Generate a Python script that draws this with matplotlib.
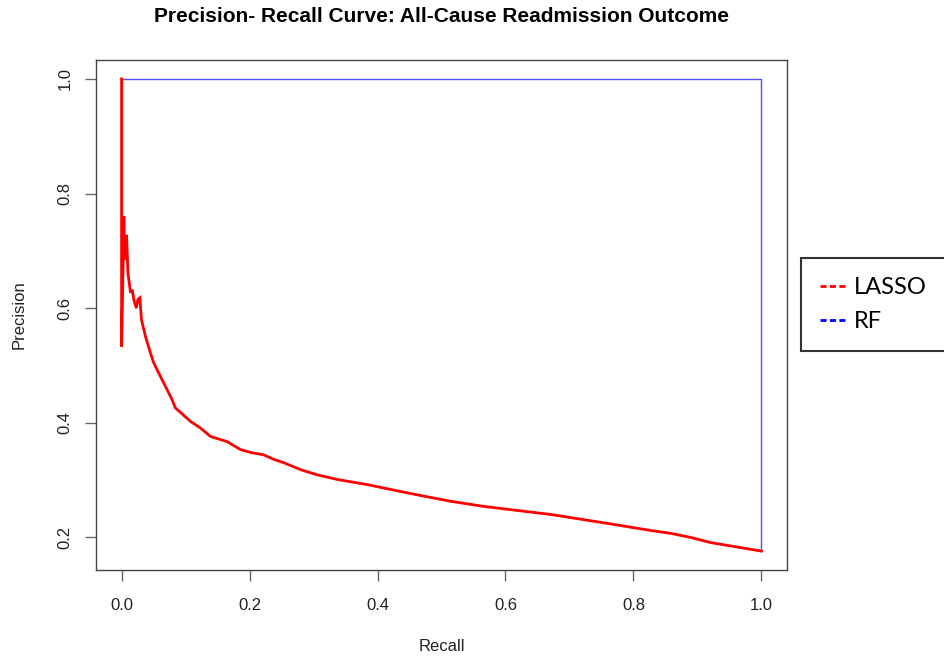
import matplotlib
matplotlib.use("Agg")
import matplotlib.pyplot as plt

# values
lasso_recall = [0.0, 0.0, 0.0015, 0.0036, 0.0047, 0.0078, 0.0099, 0.014, 0.0167,
                0.019, 0.023, 0.0255, 0.0286, 0.031, 0.0375, 0.045, 0.05, 0.061,
                0.071, 0.079, 0.084, 0.092, 0.108, 0.123, 0.139, 0.165, 0.186,
                0.202, 0.222, 0.238, 0.254, 0.28, 0.306, 0.337, 0.384, 0.436,
                0.472, 0.514, 0.566, 0.618, 0.67, 0.75, 0.827, 0.858, 0.889,
                0.92, 0.957, 1.0]
lasso_precision = [1.0, 0.533, 0.62, 0.76, 0.684, 0.728, 0.661, 0.627, 0.632,
                   0.615, 0.60, 0.615, 0.618, 0.58, 0.55, 0.522, 0.505, 0.48,
                   0.458, 0.44, 0.426, 0.418, 0.402, 0.391, 0.376, 0.367, 0.353,
                   0.348, 0.344, 0.336, 0.33, 0.318, 0.309, 0.301, 0.292, 0.28,
                   0.272, 0.263, 0.254, 0.247, 0.24, 0.226, 0.212, 0.207, 0.2,
                   0.191, 0.184, 0.176]

rf_recall = [0.0, 1.0, 1.0]
rf_precision = [1.0, 1.0, 0.176]

ticks = [0.0, 0.2, 0.4, 0.6, 0.8, 1.0]
tick_labels = ["0.0", "0.2", "0.4", "0.6", "0.8", "1.0"]

plt.rcParams["font.family"] = ["Liberation Sans", "DejaVu Sans"]

W, H = 944, 657
fig = plt.figure(figsize=(W / 100, H / 100), dpi=100)
ax = fig.add_axes([96 / W, 1 - 570 / H, (787 - 96) / W, (570 - 60) / H])

ax.plot(rf_recall, rf_precision, color="#4d4dff", linewidth=1.0)
ax.plot(lasso_recall, lasso_precision, color="red", linewidth=2.0,
        solid_joinstyle="miter")

ax.set_xlim(-0.04, 1.04)
ax.set_ylim(0.143, 1.033)
ax.set_xticks(ticks)
ax.set_xticklabels(tick_labels)
ax.set_yticks(ticks[1:])
ax.set_yticklabels(tick_labels[1:], rotation=90, va="center")

for s in ax.spines.values():
    s.set_color("#444444")
    s.set_linewidth(1.0)
ax.tick_params(axis="both", length=8, width=1.0, color="#666666",
               labelsize=12, labelcolor="#222222")
ax.tick_params(axis="x", pad=12)
ax.tick_params(axis="y", pad=9)

ax.set_xlabel("Recall", fontsize=12, color="#222222")
ax.xaxis.set_label_coords(0.5, -0.135)
ax.set_ylabel("Precision", fontsize=12, color="#222222")
ax.yaxis.set_label_coords(-0.1, 0.5)

fig.text(441.5 / W, 1 - 16 / H,
         "Precision- Recall Curve: All-Cause Readmission Outcome",
         ha="center", va="center", fontsize=15, fontweight="bold")

h1, = ax.plot([], [], color="red", linewidth=2.0, linestyle=(0, (2.2, 1.2)))
h2, = ax.plot([], [], color="blue", linewidth=2.0, linestyle=(0, (2.2, 1.2)))
leg = fig.legend([h1, h2], ["LASSO", "RF"], loc="upper left",
                 bbox_to_anchor=(801 / W, 1 - 351 / H, 0.25, 93 / H),
                 mode="expand", borderaxespad=0, fancybox=False,
                 prop={"family": "Lato", "size": 17},
                 handlelength=1.05, handletextpad=0.38, borderpad=0.8,
                 labelspacing=0.55)
leg.get_frame().set_edgecolor("black")
leg.get_frame().set_linewidth(1.5)

fig.savefig("out.png", dpi=100)
